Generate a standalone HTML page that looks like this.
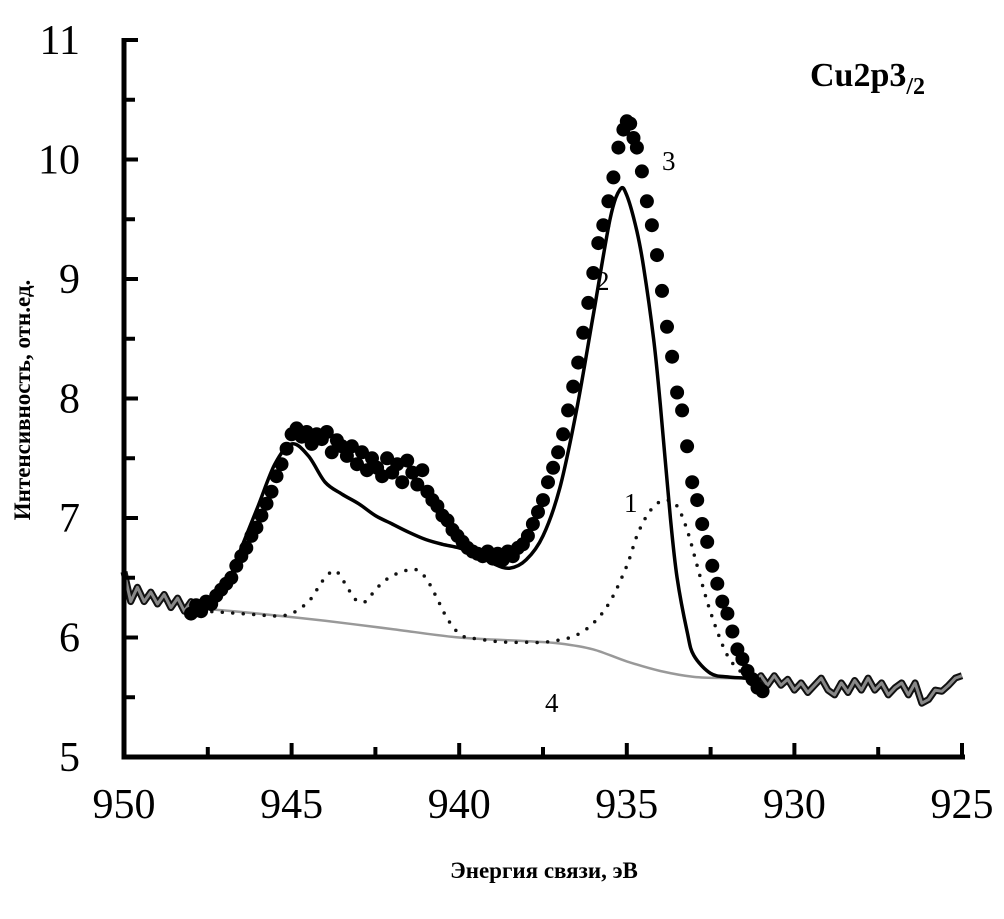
<!DOCTYPE html>
<html><head><meta charset="utf-8"><style>
body{margin:0;background:#fff;}
svg{display:block;}
text{font-family:"Liberation Serif",serif;}
</style></head><body>
<svg id="chart" width="1004" height="919" viewBox="0 0 1004 919" xmlns="http://www.w3.org/2000/svg">
<g id="plot"></g>
<g id="axes"></g>
<text x="810" y="86" font-size="34" font-weight="bold">Cu2p3<tspan font-size="24" dy="8">/2</tspan></text>
<text transform="translate(30,400) rotate(-90)" text-anchor="middle" font-size="23" font-weight="bold">Интенсивность, отн.ед.</text>
<text x="544" y="878" text-anchor="middle" font-size="23" font-weight="bold">Энергия связи, эВ</text>
<text x="624" y="512" font-size="27">1</text>
<text x="596" y="290" font-size="27">2</text>
<text x="662" y="170" font-size="27">3</text>
<text x="545" y="712" font-size="27">4</text>
</svg>
<script>
const xTicks=[950,945,940,935,930,925];
const yTicks=[5,6,7,8,9,10,11];
const expE=[948,947.85,947.7,947.55,947.4,947.25,947.1,946.95,946.8,946.65,946.5,946.35,946.2,946.05,945.9,945.75,945.6,945.45,945.3,945.15,945,944.85,944.7,944.55,944.4,944.25,944.1,943.95,943.8,943.65,943.5,943.35,943.2,943.05,942.9,942.75,942.6,942.45,942.3,942.15,942,941.85,941.7,941.55,941.4,941.25,941.1,940.95,940.8,940.65,940.5,940.35,940.2,940.05,939.9,939.75,939.6,939.45,939.3,939.15,939,938.85,938.7,938.55,938.4,938.25,938.1,937.95,937.8,937.65,937.5,937.35,937.2,937.05,936.9,936.75,936.6,936.45,936.3,936.15,936,935.85,935.7,935.55,935.4,935.25,935.1,935,934.9,934.8,934.7,934.55,934.4,934.25,934.1,933.95,933.8,933.65,933.5,933.35,933.2,933.05,932.9,932.75,932.6,932.45,932.3,932.15,932,931.85,931.7,931.55,931.4,931.25,931.1,930.95];
const expI=[6.2,6.27,6.22,6.3,6.28,6.35,6.4,6.45,6.5,6.6,6.68,6.75,6.85,6.92,7.02,7.12,7.22,7.35,7.45,7.58,7.7,7.75,7.68,7.72,7.62,7.7,7.66,7.72,7.55,7.65,7.6,7.52,7.6,7.45,7.55,7.4,7.5,7.42,7.35,7.5,7.38,7.45,7.3,7.48,7.38,7.28,7.4,7.22,7.15,7.1,7.02,6.98,6.9,6.85,6.8,6.75,6.72,6.7,6.68,6.72,6.66,6.7,6.65,6.72,6.68,6.75,6.78,6.85,6.95,7.05,7.15,7.3,7.42,7.55,7.7,7.9,8.1,8.3,8.55,8.8,9.05,9.3,9.45,9.65,9.85,10.1,10.25,10.32,10.3,10.18,10.1,9.9,9.65,9.45,9.2,8.9,8.6,8.35,8.05,7.9,7.6,7.3,7.15,6.95,6.8,6.6,6.45,6.3,6.2,6.05,5.9,5.82,5.72,5.65,5.58,5.55];
const noiseE=[950,949.8,949.6,949.4,949.2,949,948.8,948.6,948.4,948.2,948,947.8,947.6,null,931.2,931,930.8,930.6,930.4,930.2,930,929.8,929.6,929.4,929.2,929,928.8,928.6,928.4,928.2,928,927.8,927.6,927.4,927.2,927,926.8,926.6,926.4,926.2,926,925.8,925.6,925.4,925.2,925];
const noiseI=[6.55,6.3,6.42,6.3,6.38,6.28,6.36,6.25,6.33,6.22,6.3,6.2,6.25,null,5.62,5.68,5.6,5.68,5.6,5.65,5.56,5.62,5.54,5.6,5.66,5.56,5.52,5.62,5.54,5.64,5.56,5.66,5.56,5.62,5.52,5.58,5.62,5.52,5.62,5.45,5.48,5.56,5.55,5.6,5.66,5.68];
const fitE=[947.5,947,946.5,946,945.5,945,944.5,944,943.5,943,942.5,942,941.5,941,940.5,940,939.5,939,938.5,938,937.5,937,936.5,936,935.5,935.2,935,934.7,934.5,934.2,934,933.7,933.5,933.2,933,932.5,932,931.5,931];
const fitI=[6.25,6.4,6.75,7.1,7.45,7.62,7.52,7.3,7.2,7.12,7.02,6.95,6.88,6.82,6.78,6.75,6.7,6.62,6.58,6.65,6.85,7.25,7.9,8.7,9.5,9.75,9.7,9.4,9.1,8.5,7.95,7.0,6.5,6.05,5.85,5.7,5.67,5.66,5.65];
const compE=[948,947.5,947,946.5,946,945.5,945,944.5,944.2,944,943.7,943.4,943.1,942.8,942.5,942.2,941.9,941.6,941.3,941,940.7,940.4,940.1,939.8,939.5,939,938.5,938,937.5,937,936.5,936,935.5,935,934.7,934.4,934.1,933.8,933.5,933.2,932.9,932.6,932.3,932,931.7,931.4,931.1];
const compI=[6.24,6.22,6.21,6.2,6.19,6.18,6.2,6.3,6.42,6.5,6.56,6.45,6.32,6.3,6.4,6.48,6.53,6.56,6.57,6.5,6.35,6.18,6.06,6.0,5.99,5.97,5.96,5.96,5.96,5.98,6.02,6.12,6.3,6.6,6.85,7.02,7.12,7.15,7.1,6.9,6.6,6.3,6.05,5.85,5.74,5.68,5.66];
const bgE=[948,946,944,942,940,938,937,936,935,934,933,932,931];
const bgI=[6.25,6.2,6.14,6.07,6.0,5.97,5.95,5.9,5.8,5.72,5.67,5.66,5.66];

const X0=124,X1=962,Y0=757,Y1=40;
const xs=e=>X0+(950-e)/(950-925)*(X1-X0);
const ys=v=>Y0-(v-5)/(11-5)*(Y0-Y1);
const NS="http://www.w3.org/2000/svg";
const plot=document.getElementById('plot'),axes=document.getElementById('axes');
function mk(tag,attrs,parent){const el=document.createElementNS(NS,tag);for(const k in attrs)el.setAttribute(k,attrs[k]);parent.appendChild(el);return el;}
function pathD(E,I){let d='',pen=false;for(let i=0;i<E.length;i++){if(E[i]===null){pen=false;continue;}d+=(pen?'L':'M')+xs(E[i]).toFixed(1)+' '+ys(I[i]).toFixed(1);pen=true;}return d;}
function smoothD(E,I){const P=E.map((e,i)=>[xs(e),ys(I[i])]);let d='M'+P[0][0].toFixed(1)+' '+P[0][1].toFixed(1);
 for(let i=0;i<P.length-1;i++){const p0=P[Math.max(0,i-1)],p1=P[i],p2=P[i+1],p3=P[Math.min(P.length-1,i+2)];
 const c1=[p1[0]+(p2[0]-p0[0])/6,p1[1]+(p2[1]-p0[1])/6],c2=[p2[0]-(p3[0]-p1[0])/6,p2[1]-(p3[1]-p1[1])/6];
 d+=`C${c1[0].toFixed(1)} ${c1[1].toFixed(1)} ${c2[0].toFixed(1)} ${c2[1].toFixed(1)} ${p2[0].toFixed(1)} ${p2[1].toFixed(1)}`;}return d;}

let p=mk('path',{d:smoothD(bgE,bgI),fill:'none',stroke:'#999','stroke-width':2.5},plot);


p=mk('path',{d:smoothD(compE,compI),fill:'none',stroke:'#111','stroke-width':3.5,'stroke-dasharray':'0 10.5','stroke-linecap':'round'},plot);


p=mk('path',{d:pathD(noiseE,noiseI),fill:'none',stroke:'#111','stroke-width':7,'stroke-linejoin':'round'},plot);


p=mk('path',{d:pathD(noiseE,noiseI),fill:'none',stroke:'#888','stroke-width':3,'stroke-linejoin':'round'},plot);


for(let i=0;i<expE.length;i++){
  const c=mk('circle',{cx:xs(expE[i]).toFixed(1),cy:ys(expI[i]).toFixed(1),r:7,fill:'#000'},plot);
  
  
}
p=mk('path',{d:smoothD(fitE,fitI),fill:'none',stroke:'#000','stroke-width':3.5,'stroke-linejoin':'round'},plot);



let a=mk('path',{d:`M${X0} ${Y1-2}V${Y0}H${X1+3}`,fill:'none',stroke:'#000','stroke-width':5},axes);


for(let i=0;i<yTicks.length;i++){
  const y=ys(yTicks[i]);
  let t=mk('line',{x1:X0,x2:X0+14,y1:y,y2:y,stroke:'#000','stroke-width':4},axes);
  
  
  if(i<yTicks.length-1){const ym=ys(yTicks[i]+0.5);t=mk('line',{x1:X0,x2:X0+11,y1:ym,y2:ym,stroke:'#000','stroke-width':4},axes);
  
  }
  const l=mk('text',{x:80,y:y+14,'text-anchor':'end','font-size':42},axes);l.textContent=yTicks[i];
  
  
}
for(let i=0;i<xTicks.length;i++){
  const x=xs(xTicks[i]);
  let t=mk('line',{x1:x,x2:x,y1:Y0,y2:Y0-14,stroke:'#000','stroke-width':4},axes);
  
  
  if(i<xTicks.length-1){const xm=xs(xTicks[i]-2.5);t=mk('line',{x1:xm,x2:xm,y1:Y0,y2:Y0-10,stroke:'#000','stroke-width':4},axes);
  
  }
  const l=mk('text',{x:x,y:818,'text-anchor':'middle','font-size':42},axes);l.textContent=xTicks[i];
  
  
}
</script>
</body></html>
